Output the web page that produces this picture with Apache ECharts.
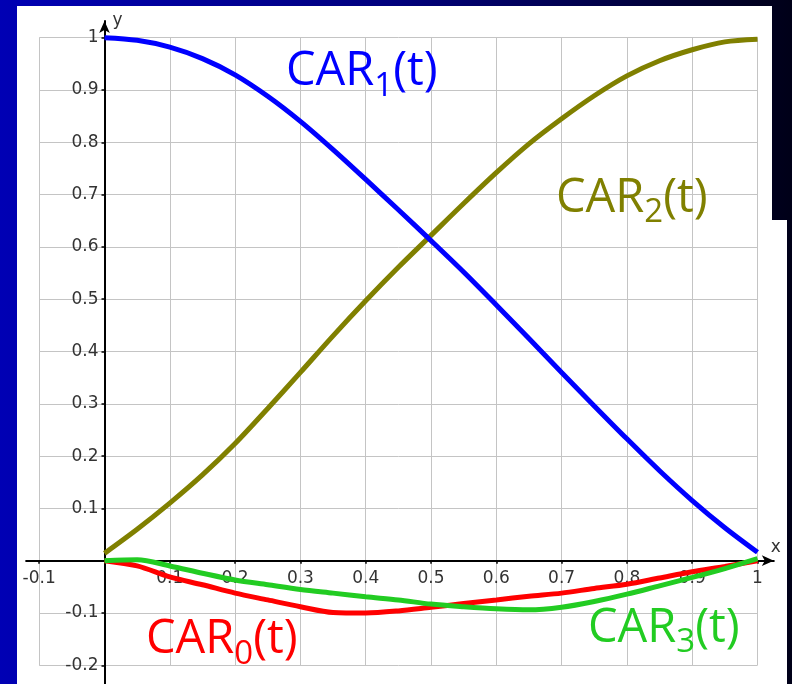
<!DOCTYPE html>
<html>
<head>
<meta charset="utf-8">
<title>Catmull-Rom basis functions</title>
<script src="https://cdn.jsdelivr.net/npm/echarts@6/dist/echarts.min.js"></script>
<style>
  html, body { margin: 0; padding: 0; background: #000; }
  #chart { width: 792px; height: 684px; }
</style>
</head>
<body>
<div id="chart"></div>
<script>
// Parameter t and the four basis curves sampled along it
const tValues = [0, 0.05, 0.1, 0.15, 0.2, 0.25, 0.3, 0.35, 0.4, 0.45, 0.5,
                 0.55, 0.6, 0.65, 0.7, 0.75, 0.8, 0.85, 0.9, 0.95, 1];
const car0 = [0, -0.01, -0.031, -0.046, -0.062, -0.075, -0.088, -0.099, -0.1, -0.096, -0.089,
              -0.082, -0.075, -0.068, -0.062, -0.053, -0.045, -0.033, -0.021, -0.011, 0];
const car1 = [1.0, 0.995, 0.982, 0.96, 0.929, 0.888, 0.84, 0.786, 0.729, 0.671, 0.612,
              0.552, 0.489, 0.425, 0.36, 0.296, 0.233, 0.172, 0.115, 0.063, 0.016];
const car2 = [0.014, 0.06, 0.11, 0.164, 0.224, 0.291, 0.36, 0.43, 0.497, 0.561, 0.622,
              0.683, 0.742, 0.797, 0.845, 0.889, 0.927, 0.956, 0.977, 0.992, 0.997];
const car3 = [0, 0.002, -0.01, -0.024, -0.037, -0.046, -0.055, -0.062, -0.069, -0.075, -0.083,
              -0.088, -0.092, -0.094, -0.089, -0.078, -0.064, -0.048, -0.032, -0.015, 0.004];

// Axis ticks and labels
const xTickValues = [-0.1, 0, 0.1, 0.2, 0.3, 0.4, 0.5, 0.6, 0.7, 0.8, 0.9, 1];
const xLabelValues = [-0.1, 0.1, 0.2, 0.3, 0.4, 0.5, 0.6, 0.7, 0.8, 0.9, 1];
const yTickValues = [-0.2, -0.1, 0, 0.1, 0.2, 0.3, 0.4, 0.5, 0.6, 0.7, 0.8, 0.9, 1];
const yLabelValues = [-0.2, -0.1, 0.1, 0.2, 0.3, 0.4, 0.5, 0.6, 0.7, 0.8, 0.9, 1];

const pairs = vals => tValues.map((t, i) => [t, vals[i]]);

const tickFont = '"DejaVu Sans", sans-serif';
const titleFont = '"Open Sans", "Noto Sans", sans-serif';

// Pixel frame of the axes: origin position and scale of one unit
const frame = { x0: 104.5, y0: 560.7, ux: 653, uy: 523 };
const axisRange = { xMin: -0.12, xMax: 1.025, yMin: -0.235, yMax: 1.032 };
const gridRange = { xMin: -0.1, xMax: 1, yMin: -0.2, yMax: 1 };

function gridBox(r) {
  return {
    left: frame.x0 + r.xMin * frame.ux,
    top: frame.y0 - r.yMax * frame.uy,
    width: (r.xMax - r.xMin) * frame.ux,
    height: (r.yMax - r.yMin) * frame.uy
  };
}
const axisBox = gridBox(axisRange);
const lineBox = gridBox(gridRange);

// Curve names: "CAR" + subscript index + "(t)"
const measureCtx = document.createElement('canvas').getContext('2d');
function textWidth(str, size) {
  measureCtx.font = size + 'px ' + titleFont;
  return measureCtx.measureText(str).width;
}
const mainSize = 47, subSize = 33, midOffset = 0.32;
function curveLabel(index, color, x, baseline) {
  const wMain = textWidth('CAR', mainSize);
  const wSub = textWidth(String(index), subSize);
  const part = (text, px, py, size) => ({
    type: 'text', x: px, y: py, z: 100, silent: true,
    style: { text: text, fontSize: size, fontFamily: titleFont, fill: color, align: 'left', verticalAlign: 'middle' }
  });
  return {
    type: 'group', z: 100, children: [
      part('CAR', x, baseline - midOffset * mainSize, mainSize),
      part(String(index), x + wMain, baseline + 10 - midOffset * subSize, subSize),
      part('(t)', x + wMain + wSub, baseline - midOffset * mainSize, mainSize)
    ]
  };
}

const labelStyle = { color: '#333', fontSize: 17, fontFamily: tickFont };

const chart = echarts.init(document.getElementById('chart'), null, { renderer: 'canvas' });

const option = {
  animation: false,
  backgroundColor: {
    type: 'linear', x: 0, y: 0, x2: 1, y2: 0,
    colorStops: [
      { offset: 0, color: '#0000b4' },
      { offset: 0.5, color: '#00007c' },
      { offset: 1, color: '#000018' }
    ]
  },
  grid: [
    Object.assign({ outerBoundsMode: 'none', containLabel: false }, axisBox),
    Object.assign({ outerBoundsMode: 'none', containLabel: false }, lineBox)
  ],
  xAxis: [
    {
      gridIndex: 0, type: 'value', min: axisRange.xMin, max: axisRange.xMax,
      position: 'bottom',
      offset: -(axisBox.top + axisBox.height - frame.y0),
      name: 'x', nameLocation: 'end', nameGap: 2,
      nameTextStyle: { color: '#333', fontSize: 17, fontFamily: tickFont, align: 'center', verticalAlign: 'bottom', padding: [0, 0, 5, 0] },
      axisLine: { onZero: false, symbol: ['none', 'arrow'], symbolSize: [8, 12], lineStyle: { color: '#000', width: 2 } },
      axisTick: { show: true, customValues: xTickValues, length: 3, lineStyle: { color: '#000', width: 1.5 } },
      axisLabel: Object.assign({ customValues: xLabelValues, margin: 9, formatter: v => String(v) }, labelStyle),
      splitLine: { show: false }
    },
    {
      gridIndex: 1, type: 'value', min: gridRange.xMin, max: gridRange.xMax, interval: 0.1,
      axisLine: { show: false }, axisTick: { show: false }, axisLabel: { show: false },
      splitLine: { show: true, lineStyle: { color: '#c4c4c4', width: 1 } }
    }
  ],
  yAxis: [
    {
      gridIndex: 0, type: 'value', min: axisRange.yMin, max: axisRange.yMax,
      position: 'left',
      offset: -(frame.x0 - axisBox.left),
      name: 'y', nameLocation: 'end', nameGap: 0,
      nameTextStyle: { color: '#333', fontSize: 17, fontFamily: tickFont, align: 'left', verticalAlign: 'middle', padding: [0, 0, 0, 8] },
      axisLine: { onZero: false, symbol: ['none', 'arrow'], symbolSize: [8, 12], lineStyle: { color: '#000', width: 2 } },
      axisTick: { show: true, customValues: yTickValues, length: 3, lineStyle: { color: '#000', width: 1.5 } },
      axisLabel: Object.assign({ customValues: yLabelValues, margin: 6, formatter: v => String(v) }, labelStyle),
      splitLine: { show: false }
    },
    {
      gridIndex: 1, type: 'value', min: gridRange.yMin, max: gridRange.yMax, interval: 0.1,
      axisLine: { show: false }, axisTick: { show: false }, axisLabel: { show: false },
      splitLine: { show: true, lineStyle: { color: '#c4c4c4', width: 1 } }
    }
  ],
  series: [
    { name: 'CAR2', type: 'line', xAxisIndex: 0, yAxisIndex: 0, data: pairs(car2), smooth: 0.3, showSymbol: false, lineStyle: { color: '#808000', width: 5 } },
    { name: 'CAR1', type: 'line', xAxisIndex: 0, yAxisIndex: 0, data: pairs(car1), smooth: 0.3, showSymbol: false, lineStyle: { color: '#0000ff', width: 5 } },
    { name: 'CAR0', type: 'line', xAxisIndex: 0, yAxisIndex: 0, data: pairs(car0), smooth: 0.3, showSymbol: false, lineStyle: { color: '#ff0000', width: 5 } },
    { name: 'CAR3', type: 'line', xAxisIndex: 0, yAxisIndex: 0, data: pairs(car3), smooth: 0.3, showSymbol: false, lineStyle: { color: '#22cc22', width: 5 } }
  ],
  graphic: [
    { type: 'rect', z: -100, silent: true, shape: { x: 17, y: 6, width: 755, height: 678 }, style: { fill: '#ffffff' } },
    { type: 'rect', z: -100, silent: true, shape: { x: 771, y: 220, width: 16, height: 464 }, style: { fill: '#ffffff' } },
    curveLabel(1, '#0000ff', 286, 86.7),
    curveLabel(2, '#808000', 556, 213.3),
    curveLabel(0, '#ff0000', 146, 655),
    curveLabel(3, '#22cc22', 588, 643.3)
  ]
};

chart.setOption(option);
</script>
</body>
</html>
